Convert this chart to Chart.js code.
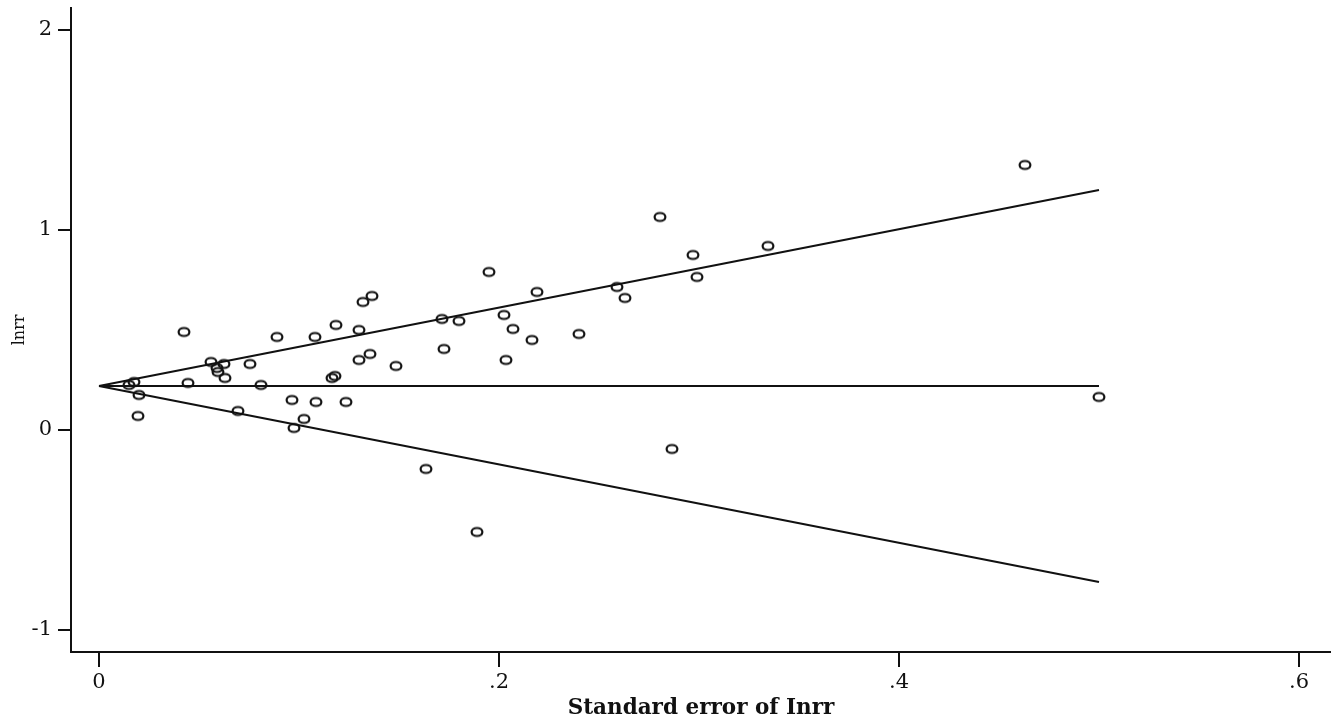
<!DOCTYPE html>
<html>
<head>
<meta charset="utf-8">
<script src="https://cdn.jsdelivr.net/npm/chart.js@4.4.0/dist/chart.umd.min.js"></script>
<style>
  html, body { margin: 0; padding: 0; background: #fff; }
  #wrap { width: 1331px; height: 725px; }
</style>
</head>
<body>
<div id="wrap"><canvas id="funnel" width="1331" height="725"></canvas></div>
<script>
// Funnel plot — lnrr against its standard error

const seValues = [
  0.463, 0.500, 0.2805, 0.297, 0.299, 0.3345, 0.259, 0.263, 0.2865, 0.240,
  0.219, 0.195, 0.2025, 0.207, 0.2165, 0.2035, 0.189, 0.1635, 0.1715, 0.180,
  0.1725, 0.1485, 0.1365, 0.132, 0.1185, 0.130, 0.1355, 0.130, 0.1165, 0.118,
  0.1235, 0.1085, 0.108, 0.089, 0.0965, 0.1025, 0.0975, 0.081, 0.0755, 0.0695,
  0.0625, 0.056, 0.059, 0.0595, 0.063, 0.0425, 0.0445, 0.0175, 0.015, 0.020,
  0.0195,
];
const lnrrValues = [
  1.325, 0.165, 1.065, 0.875, 0.765, 0.920, 0.715, 0.660, -0.095, 0.480,
  0.690, 0.790, 0.575, 0.505, 0.450, 0.350, -0.510, -0.195, 0.555, 0.545,
  0.405, 0.320, 0.670, 0.640, 0.525, 0.500, 0.380, 0.350, 0.260, 0.270,
  0.140, 0.140, 0.465, 0.465, 0.150, 0.055, 0.010, 0.225, 0.330, 0.095,
  0.330, 0.340, 0.310, 0.290, 0.260, 0.490, 0.235, 0.240, 0.225, 0.175,
  0.070,
];

// pooled estimate and pseudo 95% limits (end points)
const pooledSe = [0, 0.5];
const pooledLnrr = [0.22, 0.22];
const upperLnrr = [0.22, 1.20];
const lowerLnrr = [0.22, -0.76];

const xTicks = [0, 0.2, 0.4, 0.6];
const yTicks = [-1, 0, 1, 2];

const FONT = "'DejaVu Serif', 'Liberation Serif', serif";
const INK = '#111';

// hollow oval marker, a bit wider than tall
function ovalMarker() {
  const c = document.createElement('canvas');
  c.width = 16; c.height = 13;
  const g = c.getContext('2d');
  g.strokeStyle = INK;
  g.lineWidth = 2.2;
  g.beginPath();
  g.ellipse(8, 6.5, 5.4, 4.0, 0, 0, Math.PI * 2);
  g.stroke();
  return c;
}

function pairs(xs, ys) {
  return xs.map((x, i) => ({ x, y: ys[i] }));
}

function lineSet(ys) {
  return {
    data: pairs(pooledSe, ys),
    showLine: true,
    borderColor: INK,
    borderWidth: 2.2,
    pointRadius: 0,
    fill: false,
  };
}

function tickLabel(v) {
  if (v === 0) return '0';
  return String(v).replace(/^0\./, '.').replace(/^-0\./, '-.');
}

new Chart(document.getElementById('funnel'), {
  type: 'scatter',
  data: {
    datasets: [
      {
        data: pairs(seValues, lnrrValues),
        pointStyle: ovalMarker(),
        pointRadius: 6,
        clip: false,
      },
      lineSet(pooledLnrr),
      lineSet(upperLnrr),
      lineSet(lowerLnrr),
    ],
  },
  options: {
    responsive: false,
    animation: false,
    layout: { autoPadding: false, padding: { top: 8, right: 0, left: 0, bottom: 0 } },
    plugins: { legend: { display: false }, tooltip: { enabled: false } },
    scales: {
      x: {
        type: 'linear',
        min: -0.014,
        max: 0.616,
        afterBuildTicks: s => { s.ticks = xTicks.map(value => ({ value })); },
        afterFit: s => { s.height = 73; s.paddingLeft = 0; s.paddingRight = 0; },
        border: { display: true, color: INK, width: 2 },
        grid: { drawOnChartArea: false, drawTicks: true, tickLength: 15, color: INK, lineWidth: 2 },
        ticks: {
          callback: v => tickLabel(v),
          color: INK,
          padding: 3,
          maxRotation: 0,
          font: { family: FONT, size: 21 },
        },
        title: {
          display: true,
          text: 'Standard error of Inrr',
          color: INK,
          padding: { top: 0, bottom: 4 },
          font: { family: FONT, size: 21.5, weight: 'bold' },
        },
      },
      y: {
        type: 'linear',
        min: -1.11,
        max: 2.11,
        afterBuildTicks: s => { s.ticks = yTicks.map(value => ({ value })); },
        afterFit: s => { s.width = 71; s.paddingTop = 0; s.paddingBottom = 0; },
        border: { display: true, color: INK, width: 2 },
        grid: { drawOnChartArea: false, drawTicks: true, tickLength: 13, color: INK, lineWidth: 2 },
        ticks: {
          callback: v => tickLabel(v),
          color: INK,
          padding: 6,
          font: { family: FONT, size: 21 },
        },
        title: {
          display: true,
          text: 'lnrr',
          color: INK,
          padding: { top: 10, bottom: 0 },
          font: { family: FONT, size: 16 },
        },
      },
    },
  },
});
</script>
</body>
</html>
